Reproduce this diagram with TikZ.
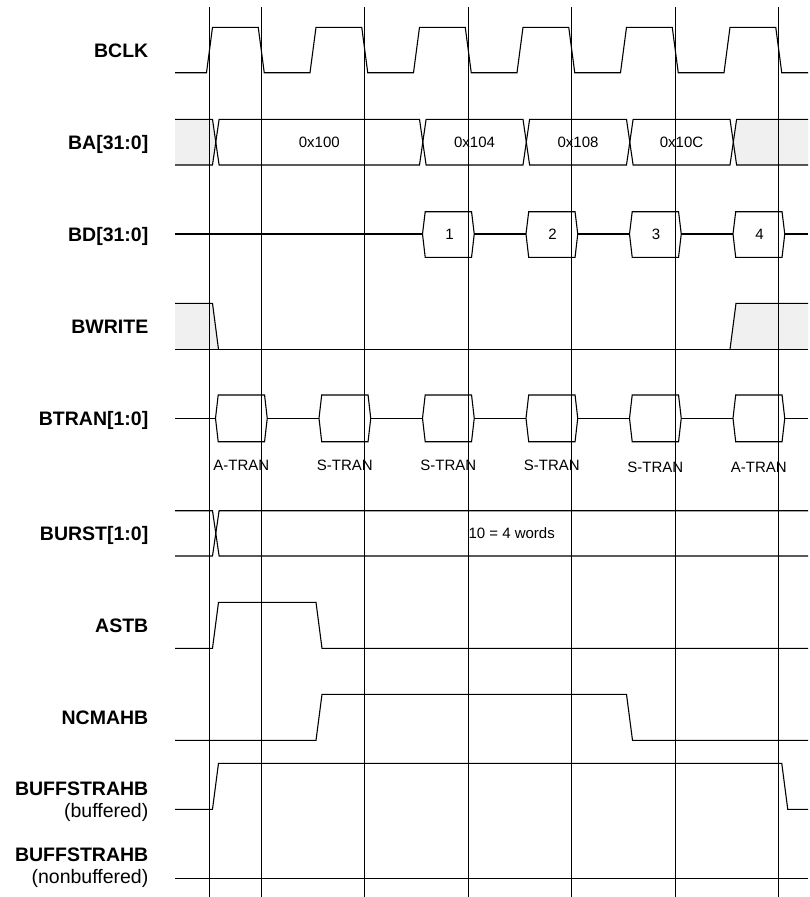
\documentclass[tikz,border=0pt]{standalone}
\usepackage{fontspec}
\setmainfont{Liberation Sans}
\definecolor{lg}{RGB}{240,240,240}
\begin{document}
\begin{tikzpicture}[x=1pt,y=-1pt,
  wave/.style={line width=1.1pt, line join=miter},
  gridline/.style={line width=0.9pt},
  sig/.style={font=\fontsize{19.5}{22}\selectfont\bfseries, anchor=base east, inner sep=0pt},
  subl/.style={font=\fontsize{19.5}{22}\selectfont, anchor=base east, inner sep=0pt},
  val/.style={font=\fontsize{15}{18}\selectfont, anchor=base, inner sep=0pt}]
\useasboundingbox (0,0) rectangle (810,897);

% grey (undefined) regions
\fill[lg] (175,119.3) -- (212.5,119.3) -- (215.8,142.15) -- (212.5,165) -- (175,165) -- cycle;
\fill[lg] (808,119.3) -- (736.6,119.3) -- (733.3,142.15) -- (736.6,165) -- (808,165) -- cycle;
\fill[lg] (175,303.3) -- (212.5,303.3) -- (218.5,349.3) -- (175,349.3) -- cycle;
\fill[lg] (808,303.3) -- (736,303.3) -- (730,349.3) -- (808,349.3) -- cycle;

% vertical timing lines
\foreach \x in {209.5,261.25,364.75,468.25,571.75,675.25,778.75}
  \draw[gridline] (\x,7) -- (\x,897);

% BCLK
\draw[wave] (175,72.7)
  \foreach \k in {0,...,5} {
    -- ({209.5+103.5*\k-3},72.7) -- ({209.5+103.5*\k+3},27.3)
    -- ({261.25+103.5*\k-3},27.3) -- ({261.25+103.5*\k+3},72.7) }
  -- (808,72.7);

% BA[31:0]
\draw[wave] (175,119.3) -- (212.5,119.3) -- (215.8,142.15) -- (212.5,165) -- (175,165);
\draw[wave] (808,119.3) -- (736.6,119.3) -- (733.3,142.15) -- (736.6,165) -- (808,165);
\foreach \a/\b in {215.8/422.8,422.8/526.3,526.3/629.8,629.8/733.3}
  \draw[wave] ({\a+3.3},119.3) -- ({\b-3.3},119.3) -- (\b,142.15) -- ({\b-3.3},165)
    -- ({\a+3.3},165) -- (\a,142.15) -- cycle;
\node[val] (ba0) at (319.3,147.5) {0x100};
\node[val] (ba1) at (474.5,147.5) {0x104};
\node[val] (ba2) at (578,147.5) {0x108};
\node[val] (ba3) at (681.5,147.5) {0x10C};

% BD[31:0]
\draw[wave] (175,234) -- (422.5,234) (474.25,234) -- (526,234) (577.75,234) -- (629.5,234)
  (681.25,234) -- (733,234) (784.75,234) -- (808,234);
\foreach \a/\b in {422.5/474.25,526/577.75,629.5/681.25,733/784.75}
  \draw[wave] ({\a+2.7},211.7) -- ({\b-2.7},211.7) -- (\b,234) -- ({\b-2.7},257.3)
    -- ({\a+2.7},257.3) -- (\a,234) -- cycle;
\node[val] (bd1) at (449.5,239.4) {1};
\node[val] (bd2) at (552.5,239.4) {2};
\node[val] (bd3) at (656,239.4) {3};
\node[val] (bd4) at (759.5,239.4) {4};

% BWRITE
\draw[wave] (175,303.3) -- (212.5,303.3) -- (218.5,349.3);
\draw[wave] (175,349.3) -- (808,349.3);
\draw[wave] (730,349.3) -- (736,303.3) -- (808,303.3);

% BTRAN[1:0]
\draw[wave] (175,418.3) -- (215.5,418.3) (267.25,418.3) -- (319,418.3) (370.75,418.3) -- (422.5,418.3)
  (474.25,418.3) -- (526,418.3) (577.75,418.3) -- (629.5,418.3) (681.25,418.3) -- (733,418.3)
  (784.75,418.3) -- (808,418.3);
\foreach \a/\b in {215.5/267.25,319/370.75,422.5/474.25,526/577.75,629.5/681.25,733/784.75}
  \draw[wave] ({\a+2.7},395) -- ({\b-2.7},395) -- (\b,418.3) -- ({\b-2.7},441.7)
    -- ({\a+2.7},441.7) -- (\a,418.3) -- cycle;
\node[val] (bt0) at (241.4,470.4) {A-TRAN};
\node[val] (bt1) at (344.9,470.4) {S-TRAN};
\node[val] (bt2) at (448.4,470.4) {S-TRAN};
\node[val] (bt3) at (551.9,470.4) {S-TRAN};
\node[val] (bt4) at (655.4,472.7) {S-TRAN};
\node[val] (bt5) at (758.9,472.7) {A-TRAN};

% BURST[1:0]
\draw[wave] (175,510.7) -- (212.5,510.7) -- (215.8,533.35) -- (212.5,556) -- (175,556);
\draw[wave] (808,510.7) -- (219.1,510.7) -- (215.8,533.35) -- (219.1,556) -- (808,556);
\node[val, anchor=base west] (bu) at (468.3,538.7) {10 = 4 words};

% ASTB
\draw[wave] (175,648.3) -- (212.5,648.3) -- (218.5,602.3) -- (316,602.3) -- (322,648.3) -- (808,648.3);

% NCMAHB
\draw[wave] (175,740.3) -- (316,740.3) -- (322,694.3) -- (626.5,694.3) -- (632.5,740.3) -- (808,740.3);

% BUFFSTRAHB (buffered)
\draw[wave] (175,809.3) -- (212.5,809.3) -- (218.5,763.3) -- (781.75,763.3) -- (787.75,809.3) -- (808,809.3);

% BUFFSTRAHB (nonbuffered)
\draw[wave] (175,878.3) -- (808,878.3);

% signal names
\node[sig] (nBCLK) at (148.5,57) {BCLK};
\node[sig] (nBA) at (148.5,149) {BA[31:0]};
\node[sig] (nBD) at (148.5,241) {BD[31:0]};
\node[sig] (nBW) at (148.5,333.3) {BWRITE};
\node[sig] (nBT) at (148.5,425.3) {BTRAN[1:0]};
\node[sig] (nBU) at (148.5,540.3) {BURST[1:0]};
\node[sig] (nAS) at (148.5,632.3) {ASTB};
\node[sig] (nNC) at (148.5,724.3) {NCMAHB};
\node[sig] (nBF1) at (148.5,795) {BUFFSTRAHB};
\node[subl] (nBF1s) at (148.5,817) {(buffered)};
\node[sig] (nBF2) at (148.5,861.7) {BUFFSTRAHB};
\node[subl] (nBF2s) at (148.5,883.7) {(nonbuffered)};
\end{tikzpicture}
\end{document}
